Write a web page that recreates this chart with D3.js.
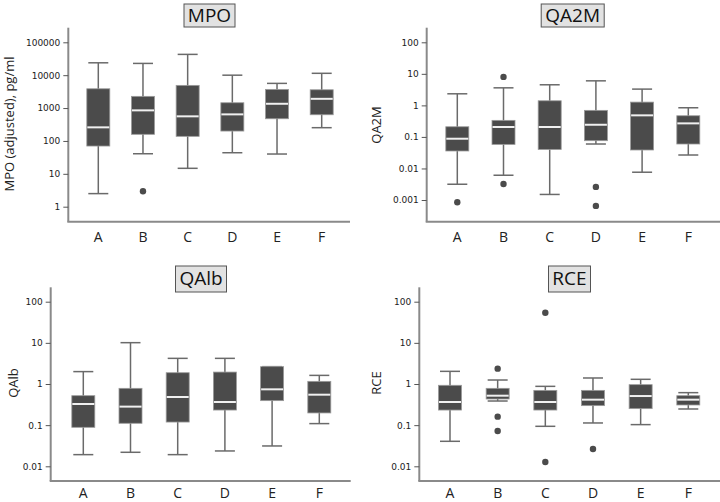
<!DOCTYPE html>
<html><head><meta charset="utf-8">
<script src="https://cdn.jsdelivr.net/npm/d3@7"></script>
<style>body{margin:0;background:#fff}svg{display:block}</style>
</head><body>
<svg id="c" width="720" height="502"></svg>
<script>
const categories = ["A","B","C","D","E","F"];

// [whiskerLow, q1, median, q3, whiskerHigh]
const mpoStats = [
  [2.5, 70, 259, 3860, 23800],
  [40.8, 159, 851, 2270, 22800],
  [14.7, 138, 560, 4900, 42900],
  [43.8, 200, 643, 1450, 10000],
  [40, 473, 1350, 3700, 5630],
  [253, 626, 1910, 3600, 11400]
];
const mpoOutliers = [[], [2.94], [], [], [], []];

const qa2mStats = [
  [0.00316, 0.0358, 0.0877, 0.21, 2.33],
  [0.0061, 0.058, 0.206, 0.335, 3.6],
  [0.0015, 0.04, 0.206, 1.4, 4.5],
  [0.0596, 0.076, 0.243, 0.695, 6.0],
  [0.0076, 0.0385, 0.483, 1.27, 3.28],
  [0.0267, 0.0596, 0.269, 0.469, 0.84]
];
const qa2mOutliers = [[0.00085], [8.0, 0.0032], [], [0.0026, 0.00065], [], []];

const qalbStats = [
  [0.0192, 0.0886, 0.327, 0.52, 2.0],
  [0.0219, 0.111, 0.282, 0.785, 10.1],
  [0.0192, 0.119, 0.483, 1.88, 4.2],
  [0.0236, 0.233, 0.365, 1.95, 4.2],
  [0.0312, 0.394, 0.742, 2.64, 2.64],
  [0.109, 0.198, 0.55, 1.16, 1.62]
];
const qalbOutliers = [[], [], [], [], [], []];

const rceStats = [
  [0.0405, 0.233, 0.365, 0.93, 2.03],
  [0.386, 0.432, 0.52, 0.785, 1.25],
  [0.0937, 0.233, 0.365, 0.70, 0.877],
  [0.113, 0.298, 0.416, 0.70, 1.4],
  [0.103, 0.252, 0.51, 0.964, 1.3],
  [0.247, 0.309, 0.416, 0.52, 0.616]
];
const rceOutliers = [[], [2.36, 0.161, 0.072], [54, 0.0127], [0.0264], [], []];

const mpoTicks = [1, 10, 100, 1000, 10000, 100000];
const qa2mTicks = [0.001, 0.01, 0.1, 1, 10, 100];
const qalbTicks = [0.01, 0.1, 1, 10, 100];
const rceTicks = [0.01, 0.1, 1, 10, 100];

const panels = [
  {title:"MPO", ylabel:"MPO (adjusted), pg/ml", stats:mpoStats, outliers:mpoOutliers, ticks:mpoTicks,
   ax:68.3, top:27.7, bottom:221.7, right:350, yr:[206.7, 42.3], xr:[98.3, 321.7],
   tx:209.5, ty:4, tw:51, th:23, lx:10.5, ly:124, cy:238},
  {title:"QA2M", ylabel:"QA2M", stats:qa2mStats, outliers:qa2mOutliers, ticks:qa2mTicks,
   ax:426.7, top:27.7, bottom:221.7, right:720, yr:[200, 42.3], xr:[457.3, 688.3],
   tx:572.7, ty:4, tw:63, th:23, lx:378, ly:125, cy:238},
  {title:"QAlb", ylabel:"QAlb", stats:qalbStats, outliers:qalbOutliers, ticks:qalbTicks,
   ax:50.7, top:287.3, bottom:481, right:350.7, yr:[466.3, 301.7], xr:[83.3, 319.3],
   tx:201, ty:266, tw:51, th:26, lx:15, ly:383, cy:494},
  {title:"RCE", ylabel:"RCE", stats:rceStats, outliers:rceOutliers, ticks:rceTicks,
   ax:419.3, top:287.3, bottom:481, right:720, yr:[466.3, 301.7], xr:[450, 688.3],
   tx:569.5, ty:266, tw:42, th:26, lx:378, ly:383, cy:494}
];

const svg = d3.select("#c");
const fmt = v => (v >= 1 ? d3.format("d")(v) : String(v));

panels.forEach(p => {
  const g = svg.append("g");
  const y = d3.scaleLog().domain([p.ticks[0], p.ticks[p.ticks.length-1]]).range(p.yr);
  const x = d3.scalePoint().domain(categories).range(p.xr);
  const bw = 23, cw = 20;

  g.append("line").attr("x1", p.ax).attr("x2", p.ax).attr("y1", p.top).attr("y2", p.bottom)
    .attr("stroke", "#8a8a8a").attr("stroke-width", 2);
  g.append("line").attr("x1", p.ax-1).attr("x2", p.right).attr("y1", p.bottom).attr("y2", p.bottom)
    .attr("stroke", "#8a8a8a").attr("stroke-width", 2);

  const yAxis = d3.axisLeft(y).tickValues(p.ticks).tickFormat(fmt).tickSize(5).tickPadding(3);
  const ya = g.append("g").attr("transform", `translate(${p.ax},0)`).call(yAxis);
  ya.select(".domain").remove();
  ya.selectAll(".tick line").attr("stroke", "#555").attr("stroke-width", 1);
  ya.selectAll(".tick text").attr("font-family", "DejaVu Sans, Verdana, sans-serif")
    .attr("font-size", 9).attr("fill", "#222");

  g.selectAll(".cat").data(categories).join("text")
    .attr("x", d => x(d)).attr("y", p.cy).attr("text-anchor", "middle").attr("dominant-baseline", "middle")
    .attr("font-family", "Open Sans, sans-serif").attr("font-size", 14).attr("fill", "#222").text(d => d);

  const bg = g.selectAll(".box").data(p.stats).join("g");
  bg.append("line").attr("x1", (d,i) => x(categories[i])).attr("x2", (d,i) => x(categories[i]))
    .attr("y1", d => y(d[0])).attr("y2", d => y(d[4])).attr("stroke", "#6a6a6a").attr("stroke-width", 1.5);
  bg.append("line").attr("x1", (d,i) => x(categories[i]) - cw/2).attr("x2", (d,i) => x(categories[i]) + cw/2)
    .attr("y1", d => y(d[0])).attr("y2", d => y(d[0])).attr("stroke", "#6a6a6a").attr("stroke-width", 1.5);
  bg.append("line").attr("x1", (d,i) => x(categories[i]) - cw/2).attr("x2", (d,i) => x(categories[i]) + cw/2)
    .attr("y1", d => y(d[4])).attr("y2", d => y(d[4])).attr("stroke", "#6a6a6a").attr("stroke-width", 1.5);
  bg.append("rect").attr("x", (d,i) => x(categories[i]) - bw/2).attr("width", bw)
    .attr("y", d => y(d[3])).attr("height", d => y(d[1]) - y(d[3]))
    .attr("fill", "#4b4b4b").attr("stroke", "#9a9a9a").attr("stroke-width", 0.8);
  bg.append("line").attr("x1", (d,i) => x(categories[i]) - bw/2 + 0.5).attr("x2", (d,i) => x(categories[i]) + bw/2 - 0.5)
    .attr("y1", d => y(d[2])).attr("y2", d => y(d[2])).attr("stroke", "#f0f0f0").attr("stroke-width", 2);

  p.outliers.forEach((arr, i) => {
    g.selectAll(null).data(arr).join("circle")
      .attr("cx", x(categories[i])).attr("cy", d => y(d)).attr("r", 3.2).attr("fill", "#4b4b4b");
  });

  g.append("rect").attr("x", p.tx - p.tw/2).attr("y", p.ty).attr("width", p.tw).attr("height", p.th)
    .attr("fill", "#e2e2e2").attr("stroke", "#555").attr("stroke-width", 1);
  g.append("text").attr("x", p.tx).attr("y", p.ty + p.th/2 + 1).attr("text-anchor", "middle")
    .attr("dominant-baseline", "middle").attr("font-family", "Open Sans, sans-serif").attr("font-size", 19)
    .attr("fill", "#111").text(p.title);

  g.append("text").attr("transform", `translate(${p.lx},${p.ly}) rotate(-90)`).attr("text-anchor", "middle")
    .attr("dominant-baseline", "middle").attr("font-family", "Open Sans, sans-serif").attr("font-size", 13)
    .attr("fill", "#222").text(p.ylabel);
});
</script>
</body></html>
